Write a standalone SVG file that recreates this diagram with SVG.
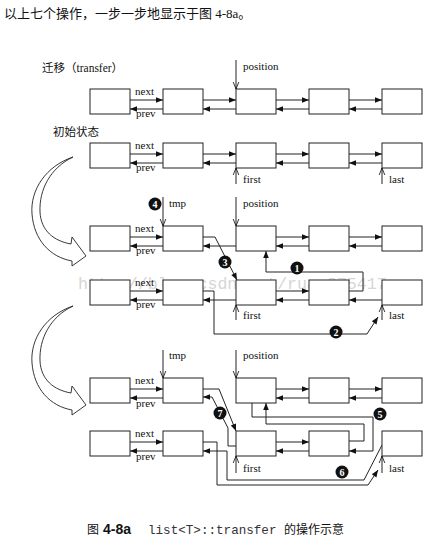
<svg xmlns="http://www.w3.org/2000/svg" width="446" height="545" viewBox="0 0 446 545">
<style>
.bx{fill:#fff;stroke:#222;stroke-width:1}
.ln{fill:none;stroke:#222;stroke-width:1}
.da{fill:none;stroke:#222;stroke-width:1;marker-end:url(#fa)}
.pa{fill:none;stroke:#222;stroke-width:1;marker-end:url(#va)}
.lb{font-family:"Liberation Serif","Noto Sans CJK SC",serif;font-size:11px;fill:#111}
.cj{font-family:"Liberation Serif","Noto Sans CJK SC",serif;font-size:11.5px;fill:#111}
.ci{fill:#111}
.cn{font-family:"Liberation Serif",serif;font-size:10px;font-weight:bold;fill:#fff;text-anchor:middle}
.wm{font-family:"Liberation Mono",monospace;font-size:16.6px;fill:#d6d6d6}
.big{fill:#fff;stroke:#222;stroke-width:0.9}
</style>
<defs>
<marker id="fa" viewBox="0 0 10 10" refX="10" refY="5" markerWidth="8" markerHeight="7" orient="auto" markerUnits="userSpaceOnUse"><path d="M0,1 L10,5 L0,9 z" fill="#111"/></marker>
<marker id="va" viewBox="0 0 10 10" refX="10" refY="5" markerWidth="7" markerHeight="8" orient="auto" markerUnits="userSpaceOnUse"><path d="M0,1 L10,5 L0,9" fill="none" stroke="#111" stroke-width="1.2"/></marker>
<rect id="b" width="40" height="25" class="bx"/>
<path id="curve" d="M73,157 C46,166 30,190 32,214 C34,240 50,257 72,261 L72,266 L86,256 L72,237 L71,244 C54,241 41,231 40,212 C39,190 50,168 73,157 Z" class="big"/>
</defs>

<text x="4" y="18" font-family="'Liberation Serif','Noto Sans CJK SC',serif" font-size="13" fill="#111">以上七个操作，一步一步地显示于图 4-8a。</text>

<text class="wm" x="78" y="289">http://blog.csdn.net/ruan875417</text>

<g id="big-arrows">
<use href="#curve"/>
<use href="#curve" transform="translate(0,149)"/>
</g>

<g id="titles">
<text class="cj" x="42" y="72">迁移（transfer）</text>
<text class="cj" x="53" y="136">初始状态</text>
</g>

<g id="connectors">
<!-- Row 1 -->
<path class="da" d="M130,100H163"/><path class="da" d="M203,100H236"/><path class="da" d="M276,100H309"/><path class="da" d="M349,100H382"/>
<path class="da" d="M163,109H130"/><path class="da" d="M236,109H203"/><path class="da" d="M309,109H276"/><path class="da" d="M382,109H349"/>
<path class="pa" d="M236,60V89"/>
<!-- Row 2 -->
<path class="da" d="M130,154H163"/><path class="da" d="M203,154H236"/><path class="da" d="M276,154H309"/><path class="da" d="M349,154H382"/>
<path class="da" d="M163,163H130"/><path class="da" d="M236,163H203"/><path class="da" d="M309,163H276"/><path class="da" d="M382,163H349"/>
<path class="pa" d="M236,184V168"/><path class="pa" d="M382,184V168"/>
<!-- Row 3 -->
<path class="da" d="M130,237H163"/><path class="da" d="M163,246H130"/>
<path class="da" d="M203,237H215L237,280"/>
<path class="da" d="M236,246H203"/>
<path class="da" d="M276,237H309"/><path class="da" d="M309,246H276"/>
<path class="da" d="M349,237H382"/><path class="da" d="M382,246H349"/>
<path class="pa" d="M163,197V226"/><path class="pa" d="M236,197V226"/>
<path class="da" d="M349,291H363V272H266V251"/>
<!-- Row 4 -->
<path class="da" d="M130,291H163"/><path class="da" d="M163,300H130"/>
<path class="da" d="M203,291H214V334H367L378,317"/>
<path class="da" d="M236,300H203"/>
<path class="da" d="M276,291H309"/><path class="da" d="M309,300H276"/>
<path class="da" d="M382,300H349"/>
<path class="pa" d="M236,320V305"/><path class="pa" d="M382,320V305"/>
<!-- Row 5 -->
<path class="da" d="M130,389H163"/><path class="da" d="M163,398H130"/>
<path class="da" d="M203,389H219L236,431"/>
<path class="da" d="M236,446H228V428L212,397H203"/>
<path class="da" d="M276,389H309"/><path class="da" d="M309,398H276"/>
<path class="da" d="M349,389H382"/><path class="da" d="M382,398H349"/>
<path class="pa" d="M163,350V378"/><path class="pa" d="M236,350V378"/>
<path class="da" d="M252,403V417H373V451H349"/>
<path class="da" d="M349,441H364V424H266V403"/>
<!-- Row 6 -->
<path class="da" d="M130,442H163"/><path class="da" d="M163,451H130"/>
<path class="da" d="M203,442H217V485H368L378,470"/>
<path class="da" d="M382,445L364,480H227V451H203"/>
<path class="da" d="M276,442H309"/><path class="da" d="M309,451H276"/>
<path class="pa" d="M236,473V456"/><path class="pa" d="M382,473V456"/>
</g>

<g id="steps">
<g id="step1"><circle class="ci" cx="297" cy="268" r="6.5"/><text class="cn" x="297" y="271.5">1</text></g>
<g id="step2"><circle class="ci" cx="336" cy="332" r="6.5"/><text class="cn" x="336" y="335.5">2</text></g>
<g id="step3"><circle class="ci" cx="225" cy="262" r="6.5"/><text class="cn" x="225" y="265.5">3</text></g>
<g id="step4"><circle class="ci" cx="155" cy="204" r="6.5"/><text class="cn" x="155" y="207.5">4</text></g>
<g id="step5"><circle class="ci" cx="380" cy="414" r="6.5"/><text class="cn" x="380" y="417.5">5</text></g>
<g id="step6"><circle class="ci" cx="342" cy="472" r="6.5"/><text class="cn" x="342" y="475.5">6</text></g>
<g id="step7"><circle class="ci" cx="220" cy="413" r="6.5"/><text class="cn" x="220" y="416.5">7</text></g>
</g>

<g id="row1">
<g id="r1n1"><use href="#b" x="90" y="89"/></g>
<g id="r1n2"><use href="#b" x="163" y="89"/></g>
<g id="r1n3"><use href="#b" x="236" y="89"/></g>
<g id="r1n4"><use href="#b" x="309" y="89"/></g>
<g id="r1n5"><use href="#b" x="382" y="89"/></g>
<text class="lb" x="135" y="95">next</text><text class="lb" x="136" y="117">prev</text>
<text class="lb" x="243" y="70">position</text>
</g>
<g id="row2">
<g id="r2n1"><use href="#b" x="90" y="143"/></g>
<g id="r2n2"><use href="#b" x="163" y="143"/></g>
<g id="r2n3"><use href="#b" x="236" y="143"/></g>
<g id="r2n4"><use href="#b" x="309" y="143"/></g>
<g id="r2n5"><use href="#b" x="382" y="143"/></g>
<text class="lb" x="135" y="149">next</text><text class="lb" x="136" y="171">prev</text>
<text class="lb" x="243" y="183">first</text><text class="lb" x="389" y="183">last</text>
</g>
<g id="row3">
<g id="r3n1"><use href="#b" x="90" y="226"/></g>
<g id="r3n2"><use href="#b" x="163" y="226"/></g>
<g id="r3n3"><use href="#b" x="236" y="226"/></g>
<g id="r3n4"><use href="#b" x="309" y="226"/></g>
<g id="r3n5"><use href="#b" x="382" y="226"/></g>
<text class="lb" x="135" y="232">next</text><text class="lb" x="136" y="254">prev</text>
<text class="lb" x="169" y="207">tmp</text><text class="lb" x="243" y="207">position</text>
</g>
<g id="row4">
<g id="r4n1"><use href="#b" x="90" y="280"/></g>
<g id="r4n2"><use href="#b" x="163" y="280"/></g>
<g id="r4n3"><use href="#b" x="236" y="280"/></g>
<g id="r4n4"><use href="#b" x="309" y="280"/></g>
<g id="r4n5"><use href="#b" x="382" y="280"/></g>
<text class="lb" x="135" y="286">next</text><text class="lb" x="136" y="308">prev</text>
<text class="lb" x="243" y="319">first</text><text class="lb" x="389" y="319">last</text>
</g>
<g id="row5">
<g id="r5n1"><use href="#b" x="90" y="378"/></g>
<g id="r5n2"><use href="#b" x="163" y="378"/></g>
<g id="r5n3"><use href="#b" x="236" y="378"/></g>
<g id="r5n4"><use href="#b" x="309" y="378"/></g>
<g id="r5n5"><use href="#b" x="382" y="378"/></g>
<text class="lb" x="135" y="384">next</text><text class="lb" x="136" y="407">prev</text>
<text class="lb" x="169" y="359">tmp</text><text class="lb" x="243" y="359">position</text>
</g>
<g id="row6">
<g id="r6n1"><use href="#b" x="90" y="431"/></g>
<g id="r6n2"><use href="#b" x="163" y="431"/></g>
<g id="r6n3"><use href="#b" x="236" y="431"/></g>
<g id="r6n4"><use href="#b" x="309" y="431"/></g>
<g id="r6n5"><use href="#b" x="382" y="431"/></g>
<text class="lb" x="135" y="437">next</text><text class="lb" x="136" y="460">prev</text>
<text class="lb" x="243" y="472">first</text><text class="lb" x="389" y="472">last</text>
</g>

<g id="caption">
<text x="87" y="534" font-family="'Liberation Serif','Noto Sans CJK SC',serif" font-size="12" fill="#111">图</text>
<text x="103" y="534" font-family="'Liberation Sans',sans-serif" font-size="14" font-weight="bold" fill="#111">4-8a</text>
<text x="148" y="534" font-family="'Liberation Mono',monospace" font-size="12.6" fill="#333">list&lt;T&gt;::transfer</text>
<text x="284" y="534" font-family="'Liberation Serif','Noto Sans CJK SC',serif" font-size="12" fill="#111">的操作示意</text>
</g>
</svg>
